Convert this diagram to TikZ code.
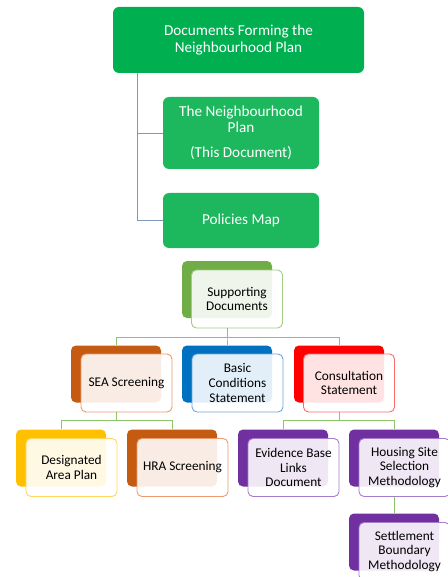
\documentclass[tikz,border=0pt]{standalone}
\usepackage{fontspec}
\setmainfont{Carlito}
\begin{document}
% colour palette
\definecolor{topgreen}{RGB}{0,176,80}
\definecolor{midgreen}{RGB}{29,183,93}
\definecolor{trunkblue}{RGB}{128,152,188}
\definecolor{linkgreen}{RGB}{140,196,106}
\definecolor{leafgreen}{RGB}{112,173,71}
\definecolor{leafgreenrim}{RGB}{160,206,130}
\definecolor{rust}{RGB}{197,90,17}
\definecolor{rustrim}{RGB}{235,155,110}
\definecolor{azure}{RGB}{0,112,192}
\definecolor{azurerim}{RGB}{110,165,220}
\definecolor{scarlet}{RGB}{255,0,0}
\definecolor{scarletrim}{RGB}{255,105,105}
\definecolor{amber}{RGB}{255,192,0}
\definecolor{amberrim}{RGB}{255,215,95}
\definecolor{violet}{RGB}{112,48,160}
\definecolor{violetrim}{RGB}{165,125,205}
\begin{tikzpicture}[x=1pt,y=-1pt,
  headbox/.style={fill=#1, rounded corners=6pt, inner sep=0pt, align=center,
    text=white, font=\fontsize{15.2}{16.5}\selectfont},
  backbox/.style={fill=#1, rounded corners=5pt, inner sep=0pt,
    minimum width=90pt, minimum height=57pt},
  frontbox/.style={draw=#1, line width=0.9pt, fill=white, fill opacity=0.89,
    text opacity=1, rounded corners=5pt, inner sep=0pt,
    minimum width=91pt, minimum height=58pt, align=center, text=black,
    font=\fontsize{13.3}{14.6}\selectfont},
  trunk/.style={draw=trunkblue, line width=0.9pt},
  link/.style={draw=linkgreen, line width=0.9pt}]
\useasboundingbox (0,0) rectangle (447,577);

% upper block: the plan documents
\node[headbox=topgreen, minimum width=251pt, minimum height=66pt] (top) at (238.5,40)
  {Documents Forming the\\Neighbourhood Plan};
\node[headbox=midgreen, minimum width=156pt, minimum height=72pt] (plan) at (241,133)
  {The Neighbourhood\\Plan\\[8.5pt](This Document)};
\node[headbox=midgreen, minimum width=156pt, minimum height=55pt] (pmap) at (241,220.5)
  {Policies Map};
\coordinate (tk) at (137,0);
\draw[trunk] (top.south -| tk) |- (plan.west);
\draw[trunk] (top.south -| tk) |- (pmap.west);

% lower block: supporting documents
\node[backbox=leafgreen] (supb) at (227,289.5) {};
\node[frontbox=leafgreenrim] (supf) at (237,299) {Supporting\\Documents};

\node[backbox=rust] (seab) at (116,374) {};
\node[frontbox=rustrim] (seaf) at (126.5,383) {SEA Screening};
\node[backbox=azure] (bcsb) at (227,374) {};
\node[frontbox=azurerim] (bcsf) at (237.5,383) {Basic\\Conditions\\Statement};
\node[backbox=scarlet] (conb) at (339,374) {};
\node[frontbox=scarletrim] (conf) at (349,383) {Consultation\\Statement};

\node[backbox=amber] (dapb) at (61,458) {};
\node[frontbox=amberrim] (dapf) at (71.5,467.5) {Designated\\Area Plan};
\node[backbox=rust] (hrab) at (172,458) {};
\node[frontbox=rustrim] (hraf) at (182.5,467.5) {HRA Screening};
\node[backbox=violet] (evib) at (283,458) {};
\node[frontbox=violetrim] (evif) at (293.5,467.5) {Evidence Base\\Links\\Document};
\node[backbox=violet] (hssb) at (394,458) {};
\node[frontbox=violetrim] (hssf) at (404.5,467.5) {Housing Site\\Selection\\Methodology};
\node[backbox=violet] (sbmb) at (394,542) {};
\node[frontbox=violetrim] (sbmf) at (404.5,551.5) {Settlement\\Boundary\\Methodology};

% connectors of the lower block
\coordinate (busa) at (0,337);
\coordinate (busb) at (0,420);
\foreach \c in {seab,bcsb,conb}
  \draw[link] (supf.south -| supb.center) -- (busa -| supb.center) -| (\c.north);
\foreach \c in {dapb,hrab}
  \draw[link] (seaf.south -| seab.center) -- (busb -| seab.center) -| (\c.north);
\foreach \c in {evib,hssb}
  \draw[link] (conf.south -| conb.center) -- (busb -| conb.center) -| (\c.north);
\draw[link] (hssf.south -| hssb.center) -- (sbmb.north);
\end{tikzpicture}
\end{document}
